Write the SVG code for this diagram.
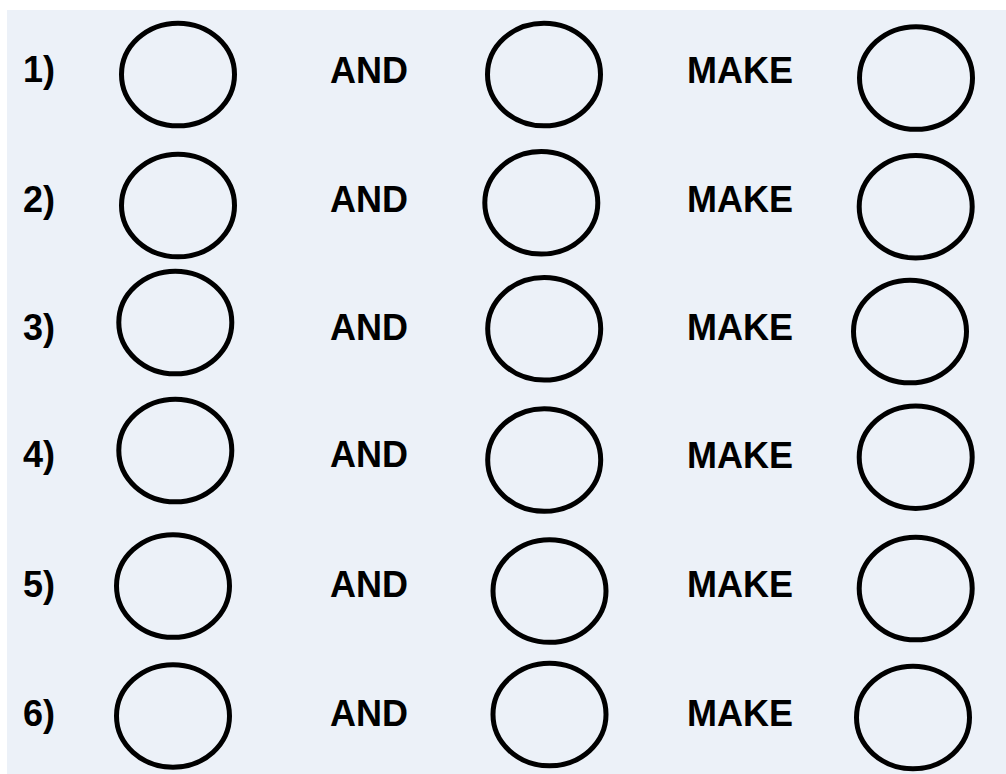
<svg xmlns="http://www.w3.org/2000/svg" width="1006" height="774" viewBox="0 0 1006 774">
<style>
.bg{fill:#ecf1f8}
.c{fill:none;stroke:#000;stroke-width:5}
.t{font-family:"Liberation Sans",Arial,sans-serif;font-weight:bold;font-size:36px;fill:#000}
</style>
<rect class="bg" x="7" y="10" width="999" height="764"/>
<g id="row1">
<text class="t" x="23" y="82">1)</text>
<ellipse class="c" cx="178" cy="74.5" rx="56.5" ry="51.3"/>
<text class="t" x="330" y="82.5">AND</text>
<ellipse class="c" cx="544" cy="74.5" rx="56.5" ry="51.3"/>
<text class="t" x="687" y="82.5">MAKE</text>
<ellipse class="c" cx="916" cy="78" rx="56.5" ry="51.3"/>
</g>
<g id="row2">
<text class="t" x="23" y="211.5">2)</text>
<ellipse class="c" cx="178" cy="205.5" rx="56.5" ry="51.3"/>
<text class="t" x="330" y="211.5">AND</text>
<ellipse class="c" cx="541.3" cy="202.8" rx="56.5" ry="51.3"/>
<text class="t" x="687" y="211.5">MAKE</text>
<ellipse class="c" cx="915.7" cy="206.7" rx="56.5" ry="51.3"/>
</g>
<g id="row3">
<text class="t" x="23" y="340">3)</text>
<ellipse class="c" cx="175.3" cy="322.5" rx="56.5" ry="51.3"/>
<text class="t" x="330" y="340">AND</text>
<ellipse class="c" cx="544.2" cy="328.8" rx="56.5" ry="51.3"/>
<text class="t" x="687" y="340">MAKE</text>
<ellipse class="c" cx="910" cy="331.5" rx="56.5" ry="51.3"/>
</g>
<g id="row4">
<text class="t" x="23" y="467">4)</text>
<ellipse class="c" cx="175.3" cy="450.5" rx="56.5" ry="51.3"/>
<text class="t" x="330" y="467">AND</text>
<ellipse class="c" cx="544.2" cy="460" rx="56.5" ry="51.3"/>
<text class="t" x="687" y="467.5">MAKE</text>
<ellipse class="c" cx="915.7" cy="457.2" rx="56.5" ry="51.3"/>
</g>
<g id="row5">
<text class="t" x="23" y="596.5">5)</text>
<ellipse class="c" cx="173" cy="586" rx="56.5" ry="51.3"/>
<text class="t" x="330" y="596.5">AND</text>
<ellipse class="c" cx="549.5" cy="591" rx="56.5" ry="51.3"/>
<text class="t" x="687" y="596.5">MAKE</text>
<ellipse class="c" cx="915.7" cy="588.5" rx="56.5" ry="51.3"/>
</g>
<g id="row6">
<text class="t" x="23" y="726">6)</text>
<ellipse class="c" cx="173" cy="716" rx="56.5" ry="51.3"/>
<text class="t" x="330" y="726">AND</text>
<ellipse class="c" cx="549.5" cy="714.5" rx="56.5" ry="51.3"/>
<text class="t" x="687" y="726">MAKE</text>
<ellipse class="c" cx="913" cy="717.5" rx="56.5" ry="51.3"/>
</g>
<g id="connectors"/>
</svg>
